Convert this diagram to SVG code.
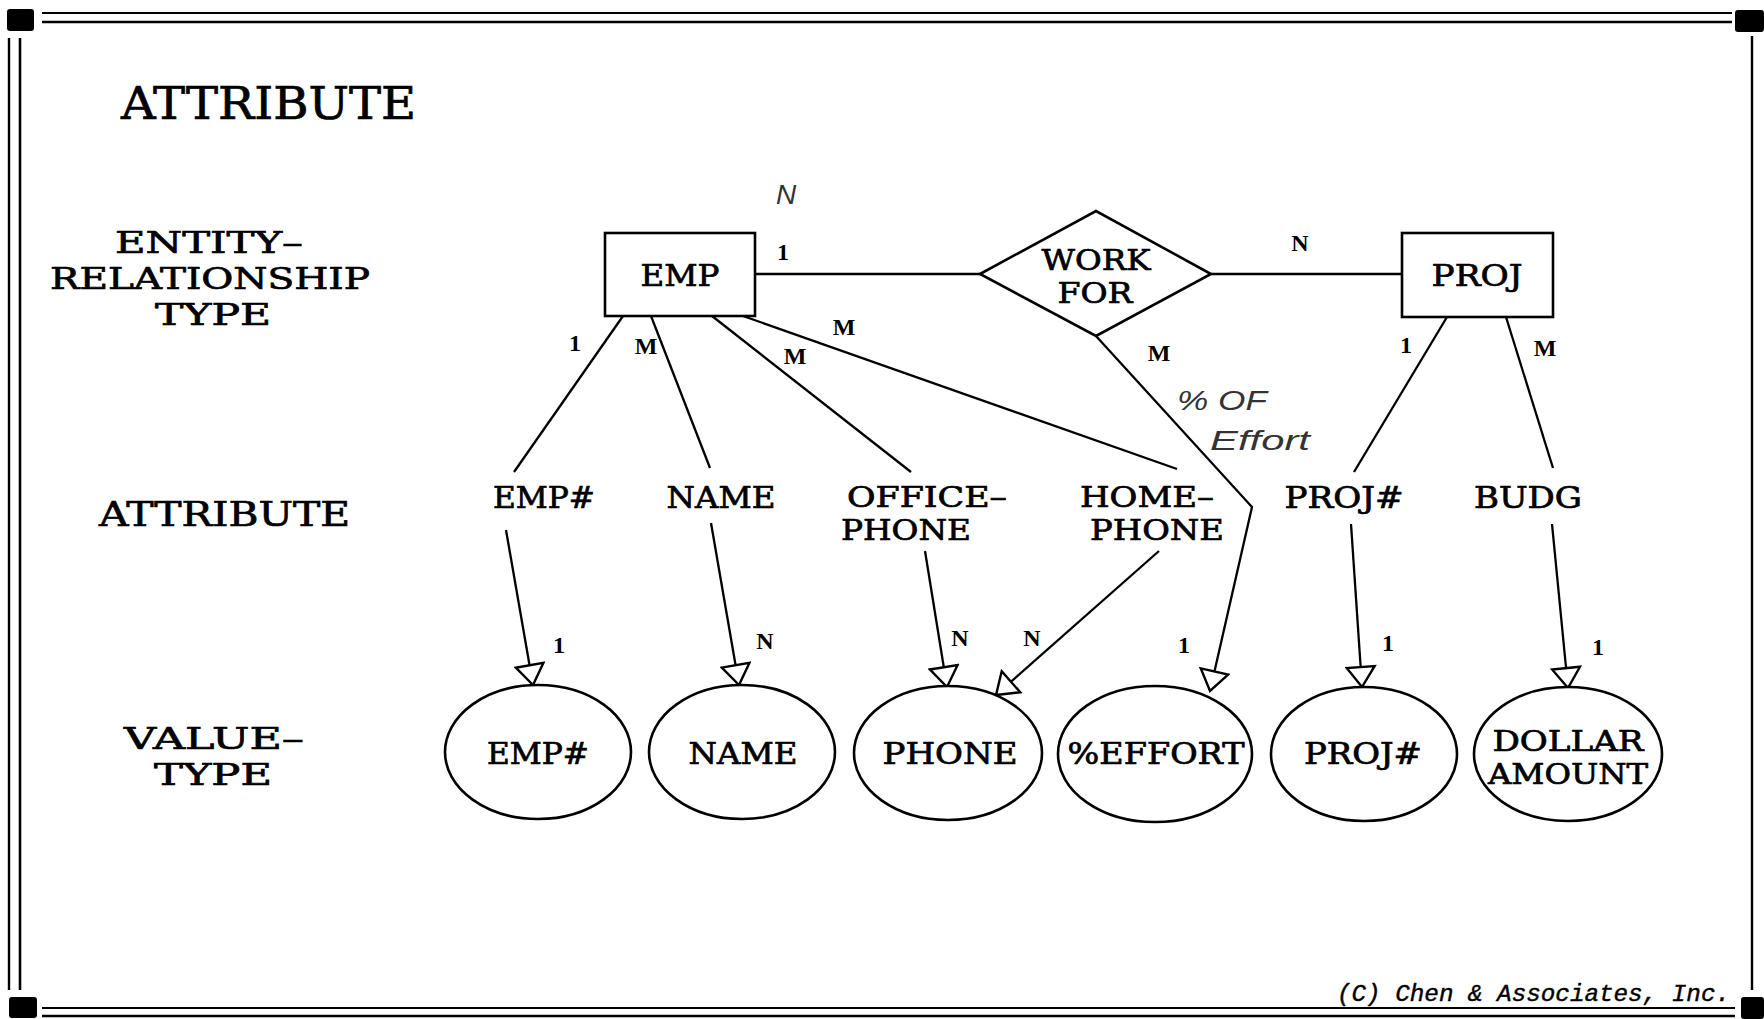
<svg xmlns="http://www.w3.org/2000/svg" width="1764" height="1019" viewBox="0 0 1764 1019">
  <style>
    .t { font-family: "DejaVu Serif", "Liberation Serif", serif; fill: #000; stroke: #000; stroke-width: 0.7; }
    .big { font-size: 44px; }
    .side { font-size: 30.5px; }
    .single { font-size: 33px; }
    .node { font-size: 30px; }
    .stack { font-size: 28px; }
    .attr { font-size: 29px; }
    .val { font-size: 29px; }
    .card { font-family: "Liberation Serif", "DejaVu Serif", serif; font-size: 24px; font-weight: bold; fill: #000; }
    .hand { font-family: "Liberation Sans", "DejaVu Sans", sans-serif; font-style: italic; fill: #333; }
    .copy { font-family: "Liberation Mono", "DejaVu Sans Mono", monospace; font-style: italic; font-size: 23px; fill: #000; stroke: #000; stroke-width: 0.4; }
    .shape { fill: #fff; stroke: #000; stroke-width: 2.6; }
    .link { fill: none; stroke: #000; stroke-width: 2.3; }
    .rule { stroke: #000; fill: none; }
  </style>
  <defs>
    <marker id="open" markerUnits="userSpaceOnUse" markerWidth="24" markerHeight="32" viewBox="0 0 24 32" refX="22" refY="16" orient="auto">
      <path d="M2,2 L22,16 L2,30 Z" fill="#fff" stroke="#000" stroke-width="2.4"/>
    </marker>
  </defs>

  <rect width="1764" height="1019" fill="#fff"/>

  <!-- page frame -->
  <g id="frame">
    <line class="rule" x1="42" y1="13" x2="1732" y2="13" stroke-width="2.2"/>
    <line class="rule" x1="42" y1="22" x2="1732" y2="22" stroke-width="2.6"/>
    <line class="rule" x1="9" y1="38" x2="9" y2="990" stroke-width="2.4"/>
    <line class="rule" x1="20" y1="38" x2="20" y2="990" stroke-width="2.6"/>
    <line class="rule" x1="1752" y1="36" x2="1752" y2="990" stroke-width="2.4"/>
    <line class="rule" x1="42" y1="1008" x2="1735" y2="1008" stroke-width="2.2"/>
    <line class="rule" x1="42" y1="1016" x2="1735" y2="1016" stroke-width="2.4"/>
    <rect x="7" y="9" width="27" height="22" rx="3" fill="#000"/>
    <rect x="1735" y="10" width="29" height="22" rx="3" fill="#000"/>
    <rect x="9" y="997" width="28" height="21" rx="3" fill="#000"/>
    <rect x="1741" y="997" width="23" height="22" rx="3" fill="#000"/>
  </g>

  <!-- row headings -->
  <g id="headings">
    <text class="t big" x="268.5" y="119" text-anchor="middle" textLength="295" lengthAdjust="spacingAndGlyphs">ATTRIBUTE</text>
    <text class="t side" x="209" y="253" text-anchor="middle" textLength="188" lengthAdjust="spacingAndGlyphs">ENTITY–</text>
    <text class="t side" x="210" y="289" text-anchor="middle" textLength="320" lengthAdjust="spacingAndGlyphs">RELATIONSHIP</text>
    <text class="t side" x="213" y="325" text-anchor="middle" textLength="116" lengthAdjust="spacingAndGlyphs">TYPE</text>
    <text class="t single" x="224.5" y="526" text-anchor="middle" textLength="251" lengthAdjust="spacingAndGlyphs">ATTRIBUTE</text>
    <text class="t side" x="214" y="749" text-anchor="middle" textLength="180" lengthAdjust="spacingAndGlyphs">VALUE–</text>
    <text class="t side" x="213" y="785" text-anchor="middle" textLength="118" lengthAdjust="spacingAndGlyphs">TYPE</text>
  </g>

  <!-- connectors -->
  <g id="connectors">
    <line class="link" x1="755" y1="274" x2="980" y2="274"/>
    <line class="link" x1="1211" y1="274" x2="1402" y2="274"/>
    <line class="link" x1="623" y1="316" x2="514" y2="472"/>
    <line class="link" x1="651" y1="316" x2="710" y2="468"/>
    <line class="link" x1="712" y1="316" x2="911" y2="472"/>
    <line class="link" x1="743" y1="316" x2="1177" y2="469"/>
    <line class="link" x1="1447" y1="317" x2="1354" y2="472"/>
    <line class="link" x1="1506" y1="317" x2="1553" y2="468"/>
    <polyline class="link" points="1096,336 1252,507 1210,691" marker-end="url(#open)"/>
    <line class="link" x1="506" y1="530" x2="533" y2="685" marker-end="url(#open)"/>
    <line class="link" x1="711" y1="523" x2="739" y2="685" marker-end="url(#open)"/>
    <line class="link" x1="925" y1="551" x2="947" y2="687" marker-end="url(#open)"/>
    <line class="link" x1="1159" y1="551" x2="996" y2="695" marker-end="url(#open)"/>
    <line class="link" x1="1351" y1="524" x2="1362" y2="687" marker-end="url(#open)"/>
    <line class="link" x1="1552" y1="524" x2="1568" y2="688" marker-end="url(#open)"/>
  </g>

  <!-- cardinality labels -->
  <g id="cardinalities">
    <text class="card" x="783" y="260" text-anchor="middle">1</text>
    <text class="card" x="1300" y="251" text-anchor="middle">N</text>
    <text class="card" x="1406" y="353" text-anchor="middle">1</text>
    <text class="card" x="1545" y="356" text-anchor="middle">M</text>
    <text class="card" x="575" y="351" text-anchor="middle">1</text>
    <text class="card" x="646" y="354" text-anchor="middle">M</text>
    <text class="card" x="795" y="364" text-anchor="middle">M</text>
    <text class="card" x="844" y="335" text-anchor="middle">M</text>
    <text class="card" x="1159" y="361" text-anchor="middle">M</text>
    <text class="card" x="559" y="653" text-anchor="middle">1</text>
    <text class="card" x="765" y="649" text-anchor="middle">N</text>
    <text class="card" x="960" y="646" text-anchor="middle">N</text>
    <text class="card" x="1032" y="646" text-anchor="middle">N</text>
    <text class="card" x="1184" y="653" text-anchor="middle">1</text>
    <text class="card" x="1388" y="651" text-anchor="middle">1</text>
    <text class="card" x="1598" y="655" text-anchor="middle">1</text>
  </g>

  <!-- pencilled notes -->
  <g id="notes">
    <text class="hand" x="786" y="204" text-anchor="middle" font-size="28">N</text>
    <text class="hand" x="1222" y="410" text-anchor="middle" font-size="27" textLength="90" lengthAdjust="spacingAndGlyphs">% OF</text>
    <text class="hand" x="1260" y="450" text-anchor="middle" font-size="27" textLength="100" lengthAdjust="spacingAndGlyphs">Effort</text>
  </g>

  <!-- entity and relationship types -->
  <g id="emp">
    <rect class="shape" x="605" y="233" width="150" height="83"/>
    <text class="t node" x="680" y="286" text-anchor="middle" textLength="79" lengthAdjust="spacingAndGlyphs">EMP</text>
  </g>
  <g id="work-for">
    <polygon class="shape" points="980,274 1096,211 1211,274 1096,336"/>
    <text class="t stack" x="1096" y="270" text-anchor="middle" textLength="109" lengthAdjust="spacingAndGlyphs">WORK</text>
    <text class="t stack" x="1095" y="303" text-anchor="middle" textLength="75" lengthAdjust="spacingAndGlyphs">FOR</text>
  </g>
  <g id="proj">
    <rect class="shape" x="1402" y="233" width="151" height="84"/>
    <text class="t node" x="1477" y="286" text-anchor="middle" textLength="91" lengthAdjust="spacingAndGlyphs">PROJ</text>
  </g>

  <!-- attributes -->
  <g id="attr-emp-no">
    <text class="t attr" x="544" y="508" text-anchor="middle" textLength="102" lengthAdjust="spacingAndGlyphs">EMP#</text>
  </g>
  <g id="attr-name">
    <text class="t attr" x="721" y="508" text-anchor="middle" textLength="109" lengthAdjust="spacingAndGlyphs">NAME</text>
  </g>
  <g id="attr-office-phone">
    <text class="t stack" x="927" y="507" text-anchor="middle" textLength="160" lengthAdjust="spacingAndGlyphs">OFFICE–</text>
    <text class="t stack" x="906" y="540" text-anchor="middle" textLength="130" lengthAdjust="spacingAndGlyphs">PHONE</text>
  </g>
  <g id="attr-home-phone">
    <text class="t stack" x="1147" y="507" text-anchor="middle" textLength="134" lengthAdjust="spacingAndGlyphs">HOME–</text>
    <text class="t stack" x="1157" y="540" text-anchor="middle" textLength="134" lengthAdjust="spacingAndGlyphs">PHONE</text>
  </g>
  <g id="attr-proj-no">
    <text class="t attr" x="1344" y="508" text-anchor="middle" textLength="119" lengthAdjust="spacingAndGlyphs">PROJ#</text>
  </g>
  <g id="attr-budg">
    <text class="t attr" x="1528" y="508" text-anchor="middle" textLength="108" lengthAdjust="spacingAndGlyphs">BUDG</text>
  </g>

  <!-- value types -->
  <g id="vt-emp-no">
    <ellipse class="shape" cx="538" cy="752" rx="93" ry="67"/>
    <text class="t val" x="538" y="764" text-anchor="middle" textLength="102" lengthAdjust="spacingAndGlyphs">EMP#</text>
  </g>
  <g id="vt-name">
    <ellipse class="shape" cx="742" cy="752" rx="93" ry="67"/>
    <text class="t val" x="743" y="764" text-anchor="middle" textLength="109" lengthAdjust="spacingAndGlyphs">NAME</text>
  </g>
  <g id="vt-phone">
    <ellipse class="shape" cx="948" cy="753" rx="94" ry="67"/>
    <text class="t val" x="950" y="764" text-anchor="middle" textLength="135" lengthAdjust="spacingAndGlyphs">PHONE</text>
  </g>
  <g id="vt-effort">
    <ellipse class="shape" cx="1155" cy="754" rx="97" ry="68"/>
    <text class="t val" x="1156" y="764" text-anchor="middle" textLength="177" lengthAdjust="spacingAndGlyphs">%EFFORT</text>
  </g>
  <g id="vt-proj-no">
    <ellipse class="shape" cx="1364" cy="754" rx="93" ry="67"/>
    <text class="t val" x="1363" y="764" text-anchor="middle" textLength="118" lengthAdjust="spacingAndGlyphs">PROJ#</text>
  </g>
  <g id="vt-dollar">
    <ellipse class="shape" cx="1568" cy="754" rx="94" ry="67"/>
    <text class="t stack" x="1568" y="751" text-anchor="middle" textLength="151" lengthAdjust="spacingAndGlyphs">DOLLAR</text>
    <text class="t stack" x="1568" y="784" text-anchor="middle" textLength="160" lengthAdjust="spacingAndGlyphs">AMOUNT</text>
  </g>

  <!-- copyright line -->
  <text class="copy" x="1337" y="1001" textLength="393" lengthAdjust="spacingAndGlyphs">(C) Chen &amp; Associates, Inc.</text>
</svg>
